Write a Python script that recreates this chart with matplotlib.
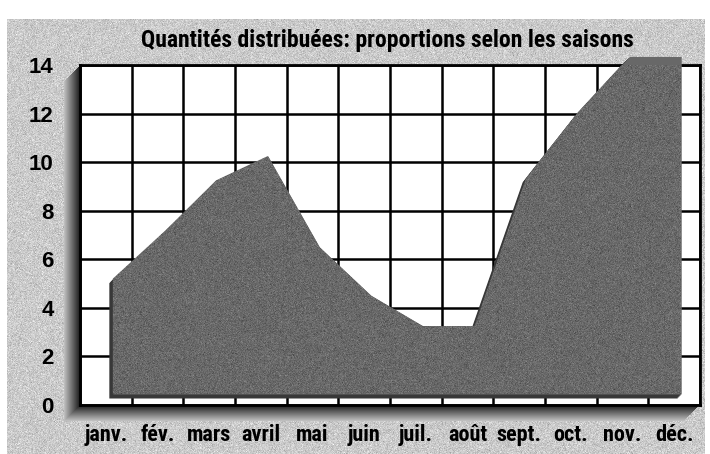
import os
import numpy as np
import matplotlib
matplotlib.use("Agg")
import matplotlib.pyplot as plt
from matplotlib import transforms, font_manager
from matplotlib.font_manager import FontProperties
from matplotlib.patches import Rectangle

mois = ["janv.", "fév.", "mars", "avril", "mai", "juin",
        "juil.", "août", "sept.", "oct.", "nov.", "déc."]
quantites = [4.75, 6.7, 8.8, 9.8, 6.05, 4.05, 2.8, 2.8, 8.9, 11.6, 13.9, 13.9]
graduations = [0, 2, 4, 6, 8, 10, 12, 14]
titre = "Quantités distribuées: proportions selon les saisons"


def police_etroite():
    # look for a bold condensed face among the installed files
    fichiers = {os.path.basename(f.fname).lower(): f.fname
                for f in font_manager.fontManager.ttflist}
    voulus = ["liberationsansnarrow-bold.ttf", "robotocondensed-bold.ttf",
              "notosans-condensedbold.ttf", "notosans-semicondensedbold.ttf",
              "opensans-condbold.ttf", "opensans-condensedbold.ttf",
              "dejavusanscondensed-bold.ttf"]
    for v in voulus:
        if v in fichiers:
            return FontProperties(fname=fichiers[v])
    for nom, chemin in sorted(fichiers.items()):
        if ("condensed" in nom or "narrow" in nom) and "bold" in nom \
                and "italic" not in nom and "semibold" not in nom \
                and "extrabold" not in nom:
            return FontProperties(fname=chemin)
    return FontProperties(family="DejaVu Sans", weight="bold",
                          stretch="condensed")


etroite = police_etroite()

W, H = 710, 454
fig = plt.figure(figsize=(W / 100, H / 100), dpi=100, facecolor="white")

# grainy grey card behind the chart
rng = np.random.default_rng(7)
fond = fig.add_axes([7 / W, 0, 698 / W, 435 / H], zorder=-10)
grain = np.clip(0.79 + rng.normal(0, 0.05, (435, 698)), 0, 1)
fond.imshow(grain, cmap="gray", vmin=0, vmax=1, aspect="auto",
            interpolation="nearest")
fond.axis("off")

# plot box in pixels (left, top, right, bottom)
x0, y0, x1, y1 = 80, 65, 700, 405
ax = fig.add_axes([x0 / W, 1 - y1 / H, (x1 - x0) / W, (y1 - y0) / H], zorder=2)

# extruded side of the box: stacked copies, darker near the box
prof = 16
for k in range(prof, 0, -1):
    g = 0.12 + 0.62 * (k - 1) / (prof - 1)
    fig.add_artist(Rectangle(((x0 - k) / W, 1 - (y1 + k) / H),
                             (x1 - x0) / W, (y1 - y0) / H,
                             transform=fig.transFigure, facecolor=str(g),
                             edgecolor="none", zorder=1))

ax.set_facecolor("white")
xs = np.arange(len(mois)) + 0.5

# area lifted a little from the baseline, with a dark rim to the lower left
dx, dy = 7, 11
for k in range(4, 0, -1):
    t = ax.transData + transforms.ScaledTranslation(
        (dx - k) / 100, (dy - k) / 100, fig.dpi_scale_trans)
    ax.fill_between(xs, 0, quantites, transform=t, color="#383838",
                    lw=0, clip_on=False, zorder=3)
t = ax.transData + transforms.ScaledTranslation(dx / 100, dy / 100,
                                                fig.dpi_scale_trans)
aire = ax.fill_between(xs, 0, quantites, transform=t, color="#686868",
                       lw=0, clip_on=False, zorder=4)

# print grain inside the area
grain2 = np.clip(0.41 + rng.normal(0, 0.04, (350, 640)), 0, 1)
img = ax.imshow(grain2, cmap="gray", vmin=0, vmax=1, aspect="auto",
                extent=(0, 12, 0, 14), interpolation="nearest", zorder=4.5)
img.set_clip_path(aire.get_paths()[0], transform=aire.get_transform())

ax.set_xlim(0, 12)
ax.set_ylim(0, 14)
ax.set_xticks(np.arange(13))
ax.set_xticklabels([])
ax.set_xticks(xs, minor=True)
ax.set_xticklabels(mois, minor=True, fontproperties=etroite, fontsize=16)
ax.set_yticks(graduations)
ax.set_yticklabels([str(v) for v in graduations],
                   fontfamily=["Liberation Sans", "DejaVu Sans"],
                   fontweight="bold", fontsize=16)
ax.tick_params(axis="x", which="both", length=0, pad=14)
ax.tick_params(axis="y", length=0, pad=19)
ax.set_axisbelow(True)
ax.grid(which="major", color="black", lw=1.8)
for s in ax.spines.values():
    s.set_color("black")
    s.set_linewidth(2)

fig.text(387 / W, 1 - 40 / H, titre, ha="center", va="center",
         fontproperties=etroite, fontsize=17)

fig.savefig("out.png", dpi=100)
